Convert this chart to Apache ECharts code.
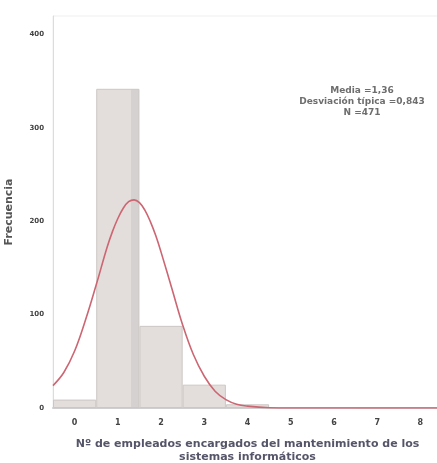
<!DOCTYPE html>
<html>
<head>
<meta charset="utf-8">
<script src="https://cdn.jsdelivr.net/npm/echarts@6/dist/echarts.min.js"></script>
<style>
  html, body { margin: 0; padding: 0; background: #fff; }
  #chart { width: 437px; height: 463px; }
</style>
</head>
<body>
<div id="chart"></div>
<script>
// histogram bins (number of employees) and their frequencies
const categories = ['0', '1', '2', '3', '4', '5', '6', '7', '8'];
const frequencies = [9, 342, 88, 25, 4, 1, 1, 0, 1];

// normal curve
const curveX = [-0.5, -0.25, 0, 0.25, 0.5, 0.75, 0.875, 1, 1.125, 1.25, 1.375, 1.5, 1.625, 1.75, 1.875, 2, 2.25, 2.5, 2.75, 3, 3.25, 3.5, 3.75, 4, 4.5, 5, 6, 7, 8, 8.5];
const curveY = [24, 38, 61, 94, 132, 172, 189, 203, 214, 221, 223, 220, 212, 200, 185, 167, 128, 89, 57, 34, 18, 9, 4, 2, 0.3, 0, 0, 0, 0, 0];

const yTicks = [0, 100, 200, 300, 400];
const statsLines = ['Media =1,36', 'Desviación típica =0,843', 'N =471'];

let myChart = echarts.init(document.getElementById('chart'));

const barColor = '#e3dedb';
const shadeColor = {
  type: 'linear', x: 0, y: 0, x2: 1, y2: 0,
  colorStops: [
    { offset: 0, color: barColor },
    { offset: 0.8, color: barColor },
    { offset: 0.8, color: '#d4d1d0' },
    { offset: 1, color: '#d4d1d0' }
  ]
};

let option = {
  animation: false,
  backgroundColor: '#fff',
  textStyle: { fontFamily: 'DejaVu Sans' },
  grid: {
    left: 53,
    right: -5,
    top: 16,
    bottom: 55,
    outerBoundsMode: 'none',
    containLabel: false,
    show: true,
    borderColor: '#efefef',
    borderWidth: 1
  },
  xAxis: [
    {
      type: 'category',
      data: categories,
      boundaryGap: true,
      axisLine: { lineStyle: { color: '#cfcfcf', width: 2 } },
      axisTick: { show: false },
      axisLabel: { color: '#444', fontSize: 8, fontWeight: 'bold', margin: 11 },
      name: 'Nº de empleados encargados del mantenimiento de los\nsistemas informáticos',
      nameLocation: 'middle',
      nameGap: 30,
      nameTextStyle: { color: '#55556a', fontSize: 11, fontWeight: 'bold', lineHeight: 13 }
    },
    {
      type: 'value',
      min: -0.5,
      max: 8.5,
      show: false
    }
  ],
  yAxis: {
    type: 'value',
    min: 0,
    max: 420,
    interval: 100,
    axisLine: { show: true, onZero: false, lineStyle: { color: '#dcdcdc', width: 1 } },
    axisTick: { show: false },
    splitLine: { show: false },
    axisLabel: {
      color: '#444', fontSize: 7, fontWeight: 'bold', margin: 9,
      customValues: yTicks
    },
    name: 'Frecuencia',
    nameLocation: 'middle',
    nameGap: 38,
    nameTextStyle: { color: '#555', fontSize: 11, fontWeight: 'bold' }
  },
  graphic: [
    {
      type: 'text',
      x: 362,
      y: 85,
      style: {
        text: statsLines.join('\n'),
        fill: '#6e6e6e',
        font: 'bold 9px "DejaVu Sans"',
        lineHeight: 11,
        align: 'center'
      }
    }
  ],
  series: [
    {
      name: 'Frecuencia',
      type: 'bar',
      xAxisIndex: 0,
      barWidth: '100%',
      barCategoryGap: '0%',
      data: frequencies.map((v, i) => ({
        value: v,
        itemStyle: i === 1 ? { color: shadeColor } : undefined
      })),
      itemStyle: {
        color: barColor,
        borderColor: '#ccc7c4',
        borderWidth: 1
      }
    },
    {
      name: 'Normal',
      type: 'line',
      xAxisIndex: 1,
      smooth: 0.4,
      showSymbol: false,
      data: curveX.map((x, i) => [x, curveY[i]]),
      lineStyle: { color: '#cc6672', width: 1.6 },
      z: 5
    }
  ]
};
myChart.setOption(option);
</script>
</body>
</html>
